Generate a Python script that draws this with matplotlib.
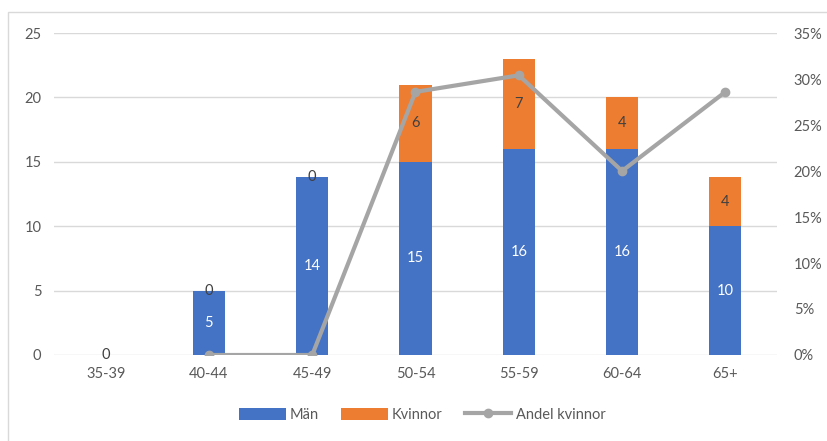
import matplotlib
matplotlib.use('Agg')
import matplotlib.pyplot as plt
from matplotlib.patches import Rectangle
from matplotlib.ticker import PercentFormatter

plt.rcParams['font.family'] = ['Lato', 'DejaVu Sans']

categories = ['35-39', '40-44', '45-49', '50-54', '55-59', '60-64', '65+']
man = [0, 5, 13.8, 15, 16, 16, 10]
kvinnor = [0, 0, 0, 6, 7, 4, 3.8]
# andel kvinnor, first group has no value
andel = [None, 0.0, 0.0, 0.286, 0.304, 0.20, 0.286]

BLUE = '#4472C4'
ORANGE = '#ED7D31'
GREY = '#A5A5A5'
TXT = '#595959'
FS = 10.5

fig = plt.figure(figsize=(8.28, 4.41), dpi=100)
ax = fig.add_axes([54 / 828, 1 - 355 / 441, (777 - 54) / 828, (355 - 33) / 441])

x = list(range(len(categories)))
b1 = ax.bar(x, man, width=0.31, color=BLUE, label='Män', zorder=2)
b2 = ax.bar(x, kvinnor, width=0.31, bottom=man, color=ORANGE, label='Kvinnor', zorder=2)
ax.bar_label(b1, labels=['%.0f' % v for v in man], label_type='center',
             color='white', fontsize=FS)
ax.bar_label(b2, labels=['%.0f' % v for v in kvinnor], label_type='center',
             color='#404040', fontsize=FS)

ax.set_xlim(-0.5, len(categories) - 0.5)
ax.set_ylim(0, 25)
ax.set_yticks(range(0, 26, 5))
ax.set_xticks(x)
ax.set_xticklabels(categories)
ax.grid(axis='y', color='#D9D9D9', linewidth=1, zorder=0)
ax.set_axisbelow(True)
for s in ax.spines.values():
    s.set_visible(False)
ax.tick_params(length=0, colors=TXT, labelsize=FS, pad=9)

ax2 = ax.twinx()
lx = [i for i, v in zip(x, andel) if v is not None]
ly = [v for v in andel if v is not None]
ax2.plot(lx, ly, color=GREY, linewidth=3, marker='o', markersize=6,
         label='Andel kvinnor', zorder=3)
ax2.set_ylim(0, 0.35)
ax2.set_yticks([i * 0.05 for i in range(8)])
ax2.yaxis.set_major_formatter(PercentFormatter(1.0, decimals=0))
for s in ax2.spines.values():
    s.set_visible(False)
ax2.tick_params(length=0, colors=TXT, labelsize=FS, pad=12)

h1, l1 = ax.get_legend_handles_labels()
h2, l2 = ax2.get_legend_handles_labels()
fig.legend(h1 + h2, l1 + l2, loc='center', bbox_to_anchor=(0.51, 1 - 415 / 441),
           ncol=3, frameon=False, fontsize=FS, labelcolor=TXT,
           handlelength=3.2, handleheight=0.9, columnspacing=1.5, handletextpad=0.3)

fig.patches.append(Rectangle((8 / 828, -0.1), 1.2, 1.1 - 12 / 441, transform=fig.transFigure,
                             fill=False, edgecolor='#D9D9D9', linewidth=1))

fig.savefig('out.png', dpi=100)
